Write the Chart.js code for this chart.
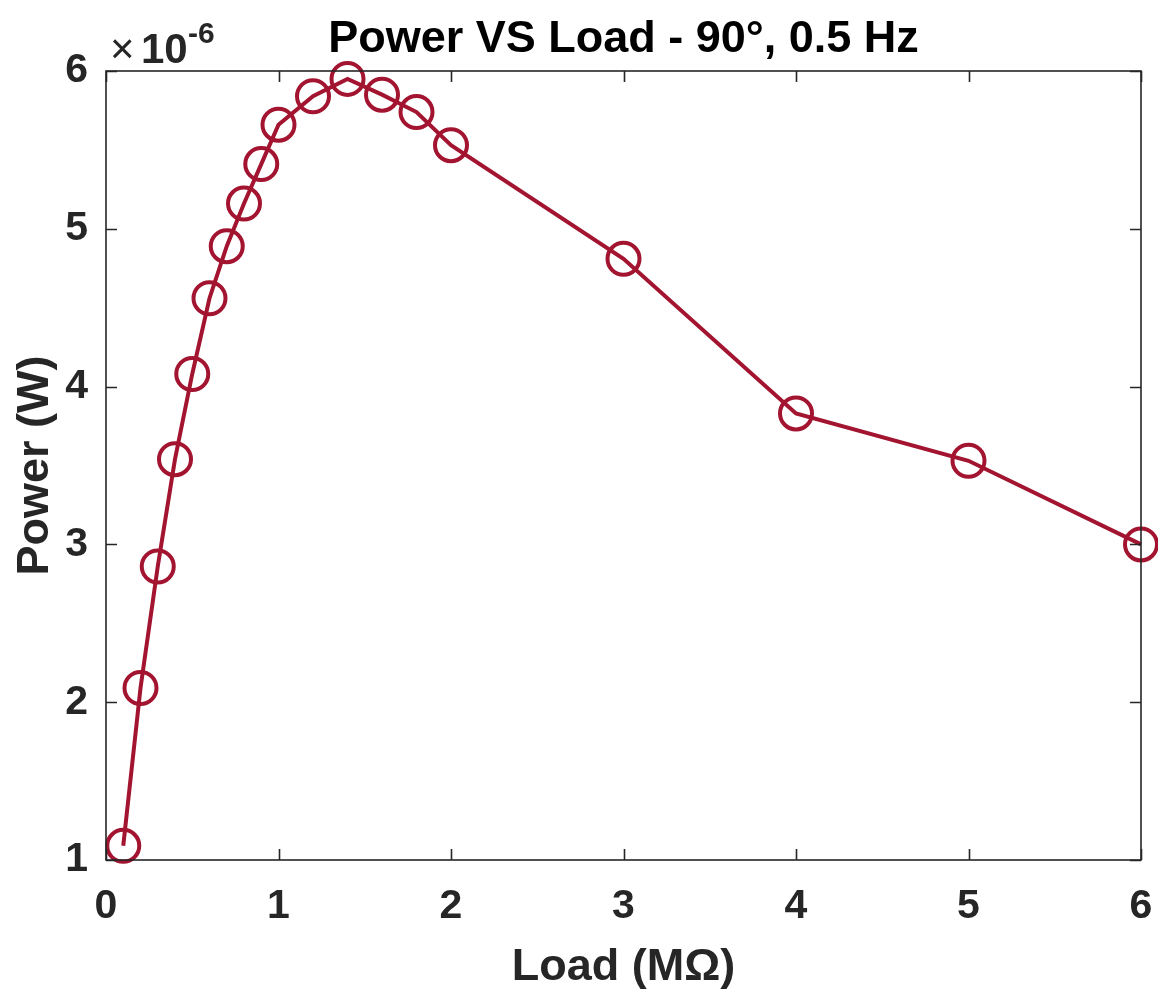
<!DOCTYPE html>
<html>
<head>
<meta charset="utf-8">
<script src="https://cdn.jsdelivr.net/npm/chart.js@4.4.1/dist/chart.umd.min.js"></script>
<style>
  html, body { margin: 0; padding: 0; background: #ffffff; }
  #c { display: block; }
</style>
</head>
<body>
<canvas id="c" width="1158" height="992"></canvas>
<script>
// ---- data ----
const titleText = 'Power VS Load - 90°, 0.5 Hz';
const xLabel = 'Load (MΩ)';
const yLabel = 'Power (W)';
const yExponent = '-6';
const loads = [0.1, 0.2, 0.3, 0.4, 0.5, 0.6, 0.7, 0.8, 0.9, 1.0, 1.2, 1.4, 1.6, 1.8, 2, 3, 4, 5, 6];
const power = [1.09, 2.09, 2.86, 3.54, 4.08, 4.56, 4.89, 5.16, 5.41, 5.66, 5.84, 5.95, 5.85, 5.74, 5.53, 4.81, 3.83, 3.53, 3.00]; // x 10^-6 W
const xTicks = [0, 1, 2, 3, 4, 5, 6];
const yTicks = [1, 2, 3, 4, 5, 6];

const LINE = '#A2142F';
const AX = '#262626';
const FONT = '"Liberation Sans", Arial, Helvetica, sans-serif';

const points = loads.map((x, i) => ({ x: x, y: power[i] }));

const decor = {
  id: 'decor',
  afterDraw(chart) {
    const ctx = chart.ctx;
    const a = chart.chartArea;
    const xs = chart.scales.x, ys = chart.scales.y;
    ctx.save();
    // box
    ctx.strokeStyle = AX;
    ctx.lineWidth = 1.6;
    ctx.strokeRect(a.left, a.top, a.right - a.left, a.bottom - a.top);
    // inward ticks on all sides
    const tl = 11;
    ctx.beginPath();
    xs.ticks.forEach(t => {
      const px = Math.round(xs.getPixelForValue(t.value)) + 0.5;
      ctx.moveTo(px, a.bottom); ctx.lineTo(px, a.bottom - tl);
      ctx.moveTo(px, a.top); ctx.lineTo(px, a.top + tl);
    });
    ys.ticks.forEach(t => {
      const py = Math.round(ys.getPixelForValue(t.value)) + 0.5;
      ctx.moveTo(a.left, py); ctx.lineTo(a.left + tl, py);
      ctx.moveTo(a.right, py); ctx.lineTo(a.right - tl, py);
    });
    ctx.stroke();

    // title
    ctx.fillStyle = '#000000';
    ctx.font = 'bold 45px ' + FONT;
    ctx.textAlign = 'center';
    ctx.textBaseline = 'alphabetic';
    const cx = (a.left + a.right) / 2;
    ctx.fillText(titleText, cx, 52);

    // x label
    ctx.fillStyle = AX;
    ctx.font = 'bold 45px ' + FONT;
    ctx.fillText(xLabel, cx, 980);

    // y label
    ctx.save();
    ctx.translate(48, (a.top + a.bottom) / 2);
    ctx.rotate(-Math.PI / 2);
    ctx.fillText(yLabel, 0, 0);
    ctx.restore();

    // exponent label
    ctx.textAlign = 'left';
    ctx.font = '42px ' + FONT;
    ctx.fillText('×', 110, 63);
    ctx.font = 'bold 42px ' + FONT;
    ctx.fillText('10', 141, 63);
    ctx.font = 'bold 30px ' + FONT;
    ctx.fillText(yExponent, 188, 43);
    ctx.restore();
  }
};

new Chart(document.getElementById('c'), {
  type: 'line',
  data: {
    datasets: [{
      data: points,
      borderColor: LINE,
      borderWidth: 4,
      backgroundColor: 'rgba(0,0,0,0)',
      pointStyle: 'circle',
      pointRadius: 16,
      pointBorderWidth: 4,
      pointBorderColor: LINE,
      pointBackgroundColor: 'rgba(0,0,0,0)',
      pointHoverRadius: 16,
      tension: 0,
      fill: false,
      clip: false
    }]
  },
  options: {
    responsive: false,
    animation: false,
    events: [],
    layout: { autoPadding: false, padding: { left: 0, right: 17, top: 71, bottom: 0 } },
    plugins: { legend: { display: false }, tooltip: { enabled: false }, title: { display: false } },
    scales: {
      x: {
        type: 'linear',
        min: 0, max: 6,
        afterBuildTicks: s => { s.ticks = xTicks.map(v => ({ value: v })); },
        afterFit: s => { s.height = 132; s.paddingLeft = 0; s.paddingRight = 0; },
        grid: { display: false, drawTicks: false },
        border: { display: false },
        ticks: { color: AX, font: { family: FONT, size: 41, weight: 'bold' }, padding: 22, maxRotation: 0 }
      },
      y: {
        type: 'linear',
        min: 1, max: 6,
        afterBuildTicks: s => { s.ticks = yTicks.map(v => ({ value: v })); },
        afterFit: s => { s.width = 106; s.paddingTop = 0; s.paddingBottom = 0; },
        grid: { display: false, drawTicks: false },
        border: { display: false },
        ticks: { color: AX, font: { family: FONT, size: 41, weight: 'bold' }, padding: 18 }
      }
    }
  },
  plugins: [decor]
});
</script>
</body>
</html>
